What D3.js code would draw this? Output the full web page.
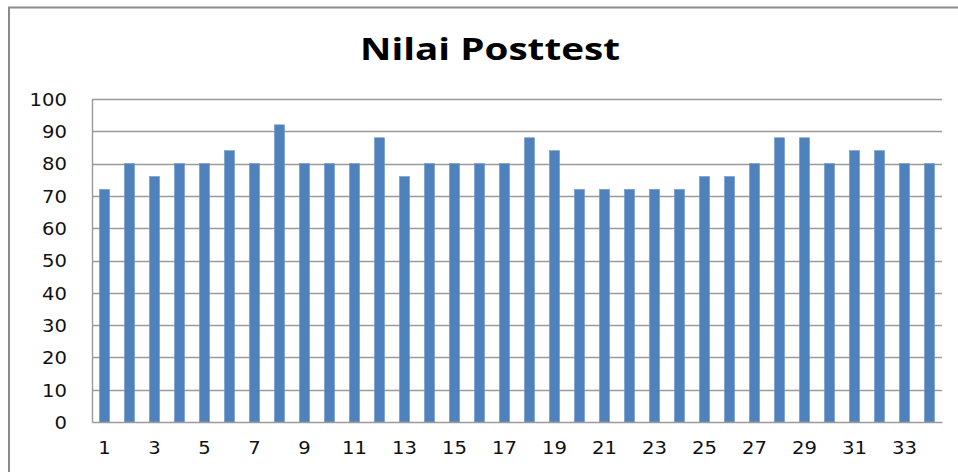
<!DOCTYPE html>
<html>
<head>
<meta charset="utf-8">
<script src="https://cdn.jsdelivr.net/npm/d3@7"></script>
<style>
  html, body { margin: 0; padding: 0; background: #fff; }
  svg { display: block; }
</style>
</head>
<body>
<svg id="chart" width="958" height="472"></svg>
<script>
const titleText = "Nilai Posttest";
const categories = d3.range(1, 35).map(String);
const values = [72, 80, 76, 80, 80, 84, 80, 92, 80, 80, 80, 88, 76, 80, 80, 80, 80, 88, 84,
                72, 72, 72, 72, 72, 76, 76, 80, 88, 88, 80, 84, 84, 80, 80];
const yTicks = [0, 10, 20, 30, 40, 50, 60, 70, 80, 90, 100];
const xTickLabels = categories.filter((d, i) => i % 2 === 0);

const svg = d3.select("#chart");
const plot = { left: 92, right: 942, top: 99, bottom: 422 };

// chart border (extends beyond the visible area on right and bottom)
svg.append("rect")
  .attr("x", 9).attr("y", 7.5).attr("width", 1000).attr("height", 500)
  .attr("fill", "#fff").attr("stroke", "#8a8a8a").attr("stroke-width", 2);

const x = d3.scaleBand().domain(categories).range([plot.left, plot.right]).paddingInner(0.6).paddingOuter(0.3);
const y = d3.scaleLinear().domain([0, 100]).range([plot.bottom, plot.top]);

const stretch = 1.12;
function widen(sel, factor) {
  sel.each(function () {
    const w = this.getComputedTextLength();
    d3.select(this).attr("textLength", w * factor).attr("lengthAdjust", "spacingAndGlyphs");
  });
}

// gridlines
svg.append("g").selectAll("line").data(yTicks.filter(d => d > 0)).join("line")
  .attr("x1", plot.left).attr("x2", plot.right)
  .attr("y1", d => Math.round(y(d)) + 0.5).attr("y2", d => Math.round(y(d)) + 0.5)
  .attr("stroke", "#9a9a9a").attr("stroke-width", 1.4);

// y axis
const yAxis = svg.append("g")
  .attr("transform", `translate(${plot.left},0)`)
  .call(d3.axisLeft(y).tickValues(yTicks).tickSize(0).tickPadding(25));
yAxis.select(".domain").attr("stroke", "#9a9a9a").attr("stroke-width", 1.4);
yAxis.selectAll("text")
  .attr("font-family", "DejaVu Sans").attr("font-size", 17.5).attr("fill", "#111")
  .attr("dy", "0.36em").call(widen, stretch);

// bars
svg.append("g").selectAll("rect").data(values).join("rect")
  .attr("x", (d, i) => x(categories[i]))
  .attr("y", d => y(d))
  .attr("width", x.bandwidth())
  .attr("height", d => y(0) - y(d))
  .attr("fill", "#4F81BD")
  .attr("stroke", "#6f97c8").attr("stroke-width", 0.6);

// x axis
const xAxis = svg.append("g")
  .attr("transform", `translate(0,${plot.bottom})`)
  .call(d3.axisBottom(x).tickValues(xTickLabels).tickSize(0).tickPadding(22));
xAxis.select(".domain").attr("stroke", "#9a9a9a").attr("stroke-width", 1.4);
xAxis.selectAll("text")
  .attr("font-family", "DejaVu Sans").attr("font-size", 17.5).attr("fill", "#111")
  .attr("dy", "0.55em").call(widen, stretch);

// title
svg.append("text")
  .attr("x", 490).attr("y", 60)
  .attr("text-anchor", "middle")
  .attr("font-family", "Open Sans").attr("font-weight", "bold")
  .attr("font-size", 30).attr("fill", "#000")
  .text(titleText)
  .call(sel => {
    sel.attr("textLength", 260).attr("lengthAdjust", "spacingAndGlyphs");
  });
</script>
</body>
</html>
